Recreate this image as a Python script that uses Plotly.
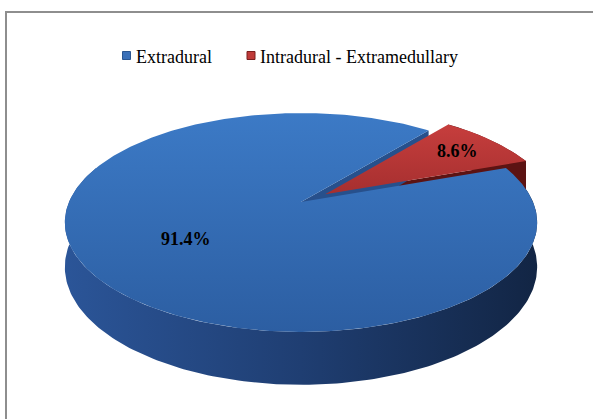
import numpy as np
import plotly.graph_objects as go

# Tumour location shares (percent)
categories = ["Extradural", "Intradural - Extramedullary"]
values = [91.4, 8.6]

# Slice styling
top_colors = [["#3C7AC6", "#2C5EA2"], ["#C63E3D", "#A62F2F"]]
wall_colors = ["#2A5496", "#5C1313"]
cut_colors = ["#27508C", "#5C1313"]
legend_fill = ["#3A70B8", "#BF3A39"]
legend_line = ["#2A5590", "#7A1F1F"]

# 3-D pie geometry (pixel space)
CX, CY = 301.0, 202.0      # projected centre of the top face
A, B = 232.0, 105.6        # horizontal / vertical radii before perspective
P = 0.187                  # perspective strength
H = 43.0                   # pie thickness
FIRST_ANGLE = 20.0         # angle where the first slice starts (degrees, ccw from 3 o'clock)
EXPLODE = [0.0, 0.13]      # radial explosion per slice
LABEL_R = [0.57, 0.78]     # label distance from slice apex (fraction of radius)


def project(theta, r, depth, off):
    th = np.radians(theta)
    X = r * np.cos(th) + off[0]
    Z = r * np.sin(th) + off[1]
    w = 1.0 + P * Z
    return CX + A * X / w, CY - B * Z / w + depth * H / w


# slice angle ranges, first slice running clockwise from FIRST_ANGLE
total = sum(values)
spans = [v / total * 360.0 for v in values]
slices = []
end = FIRST_ANGLE + 360.0
for s in spans:
    lo = end - s
    slices.append((lo, end))
    end = lo

offsets = []
for i, (lo, hi) in enumerate(slices):
    mid = np.radians((lo + hi) / 2)
    offsets.append((EXPLODE[i] * np.cos(mid), EXPLODE[i] * np.sin(mid)))

fig = go.Figure()


def poly(xs, ys, color=None, grad=None):
    kw = dict(x=list(xs) + [xs[0]], y=list(ys) + [ys[0]], mode="lines",
              fill="toself", line=dict(width=0), hoverinfo="skip", showlegend=False)
    if grad is not None:
        kw["fillgradient"] = grad
    else:
        kw["fillcolor"] = color
    fig.add_trace(go.Scatter(**kw))


def band(i, a0, a1):
    th = np.linspace(a0, a1, 200)
    xt, yt = project(th, 1.0, 0, offsets[i])
    xb, yb = project(th[::-1], 1.0, 1, offsets[i])
    return np.concatenate([xt, xb]), np.concatenate([yt, yb])


def cut_face(i, ang):
    o = offsets[i]
    x0, y0 = project(ang, 0.0, 0, o)
    x1, y1 = project(ang, 1.0, 0, o)
    x2, y2 = project(ang, 1.0, 1, o)
    x3, y3 = project(ang, 0.0, 1, o)
    return [x0, x1, x2, x3], [y0, y1, y2, y3]


def top_face(i):
    lo, hi = slices[i]
    th = np.linspace(lo, hi, 400)
    xr, yr = project(th, 1.0, 0, offsets[i])
    xa, ya = project(lo, 0.0, 0, offsets[i])
    return np.concatenate([[xa], xr]), np.concatenate([[ya], yr])


lo0, hi0 = slices[0]
lo1, hi1 = slices[1]

# outer wall of the large slice (front half)
xs, ys = band(0, max(lo0, 160.0), hi0)
poly(xs, ys, grad=dict(type="horizontal", start=CX - A * 1.02, stop=CX + A * 1.02,
                       colorscale=[[0, "#2B5598"], [0.5, "#1F3E72"], [1, "#122544"]]))

# walls of the exploded slice
xs, ys = band(1, lo1, hi1)
poly(xs, ys, wall_colors[1])
xs, ys = cut_face(1, lo1)
poly(xs, ys, cut_colors[1])

# exposed cut face of the large slice (mostly hidden by the top faces)
xs, ys = cut_face(0, lo0)
poly(xs, ys, cut_colors[0])

# top face of the large slice
xs, ys = top_face(0)
poly(xs, ys, grad=dict(type="vertical", start=float(ys.min()), stop=float(ys.max()),
                       colorscale=[[0, top_colors[0][0]], [1, top_colors[0][1]]]))

# top face of the exploded slice
xs, ys = top_face(1)
poly(xs, ys, grad=dict(type="vertical", start=float(ys.min()), stop=float(ys.max()),
                       colorscale=[[0, top_colors[1][0]], [1, top_colors[1][1]]]))

# percentage labels
for i, (lo, hi) in enumerate(slices):
    mid = (lo + hi) / 2
    lx, ly = project(mid, LABEL_R[i], 0, offsets[i])
    fig.add_annotation(x=float(lx), y=float(ly), text=f"<b>{values[i]:.1f}%</b>",
                       showarrow=False, font=dict(family="Liberation Serif", size=18, color="#000000"))

# legend row
legend_x = [126.5, 251.0]
LEG_Y = 55.5
fig.add_trace(go.Scatter(x=legend_x, y=[LEG_Y, LEG_Y], mode="markers", hoverinfo="skip",
                         showlegend=False,
                         marker=dict(symbol="square", size=8, color=legend_fill,
                                     line=dict(color=legend_line, width=1))))
for lx, name in zip(legend_x, categories):
    fig.add_annotation(x=lx + 7, y=LEG_Y + 1, text=name, showarrow=False,
                       xanchor="left", yanchor="middle",
                       font=dict(family="Liberation Serif", size=18, color="#000000"))

# chart frame
fig.add_shape(type="rect", x0=6, y0=12, x1=640, y1=460,
              line=dict(color="#8E8E8E", width=2), layer="above")

fig.update_layout(
    width=593, height=419,
    margin=dict(l=0, r=0, t=0, b=0),
    paper_bgcolor="#FFFFFF", plot_bgcolor="#FFFFFF",
    xaxis=dict(range=[0, 593], visible=False, fixedrange=True),
    yaxis=dict(range=[419, 0], visible=False, fixedrange=True),
    showlegend=False,
)

fig.write_html("out.html")
